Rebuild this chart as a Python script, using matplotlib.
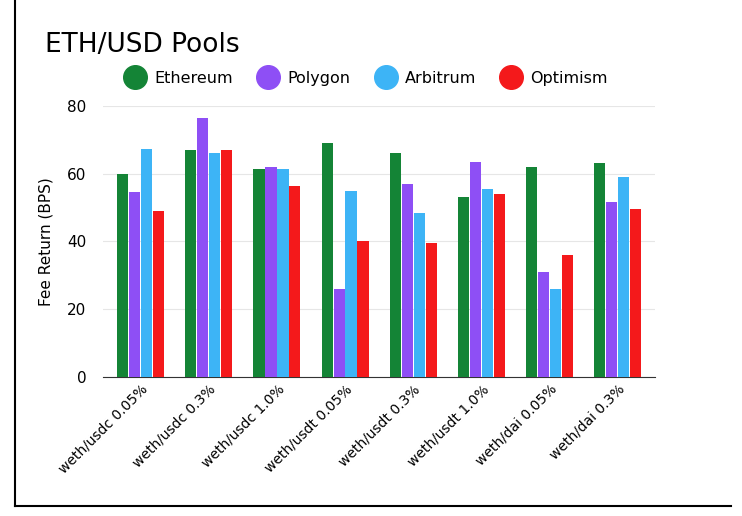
import matplotlib.pyplot as plt
import numpy as np
from matplotlib.lines import Line2D

pools = ["weth/usdc 0.05%", "weth/usdc 0.3%", "weth/usdc 1.0%", "weth/usdt 0.05%",
         "weth/usdt 0.3%", "weth/usdt 1.0%", "weth/dai 0.05%", "weth/dai 0.3%"]
ethereum = [60, 67, 61.5, 69, 66, 53, 62, 63]
polygon = [54.5, 76.5, 62, 26, 57, 63.5, 31, 51.5]
arbitrum = [67.3, 66, 61.5, 55, 48.5, 55.5, 26, 59]
optimism = [49, 67, 56.5, 40, 39.5, 54, 36, 49.5]

names = ["Ethereum", "Polygon", "Arbitrum", "Optimism"]
colors = ["#148436", "#8e4ff5", "#3db4f6", "#f4191b"]
series = [ethereum, polygon, arbitrum, optimism]

fig = plt.figure(figsize=(7.42, 5.16), dpi=100)
ax = fig.add_axes([0.139, 0.269, 0.744, 0.526])

x = np.arange(len(pools))
w = 0.175
for i, (vals, c) in enumerate(zip(series, colors)):
    ax.bar(x + (i - 1.5) * w, vals, w * 0.94, color=c, zorder=3)

ax.set_ylim(0, 80)
ax.set_xlim(-0.55, len(pools) - 0.45)
ax.set_yticks([0, 20, 40, 60, 80])
ax.grid(axis="y", color="#e6e6e6", lw=0.8, zorder=0)
for s in ["top", "right", "left"]:
    ax.spines[s].set_visible(False)
ax.spines["bottom"].set_color("#333333")
ax.tick_params(axis="y", length=0, labelsize=11, pad=12)
ax.tick_params(axis="x", length=0, labelsize=10)
ax.set_xticks(x)
ax.set_xticklabels(pools, rotation=45, ha="right", rotation_mode="anchor")
ax.set_ylabel("Fee Return (BPS)", fontsize=11, labelpad=10)

fig.text(0.06, 0.913, "ETH/USD Pools", fontsize=19, va="center")
handles = [Line2D([], [], marker="o", ls="", color=c, markersize=17) for c in colors]
fig.legend(handles, names, loc="center", bbox_to_anchor=(0.49, 0.848), ncol=4,
           frameon=False, fontsize=11.5, handletextpad=0.2, columnspacing=1.2)

# left/bottom frame lines like the reference
fig.add_artist(Line2D([0.02, 0.02], [0.02, 1.0], transform=fig.transFigure, color="black", lw=1.5))
fig.add_artist(Line2D([0.02, 0.985], [0.02, 0.02], transform=fig.transFigure, color="black", lw=1.5))
fig.savefig("out.png", dpi=100)
